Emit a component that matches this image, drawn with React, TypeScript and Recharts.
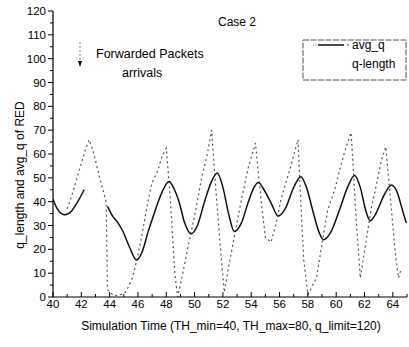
import React from "react";
import { LineChart, Line, XAxis, YAxis } from "recharts";

const avgTime = [40.0, 40.3, 40.85, 41.3, 41.7, 42.2, 43.0, 43.85, 44.2, 44.6, 44.9, 45.4, 45.9, 46.3, 46.7, 47.2, 47.7, 48.2, 48.5, 48.9, 49.3, 49.75, 50.2, 50.7, 51.2, 51.6, 52.0, 52.4, 52.8, 53.3, 53.8, 54.2, 54.5, 54.9, 55.4, 55.9, 56.4, 57.0, 57.5, 57.9, 58.4, 58.8, 59.1, 59.6, 60.2, 60.8, 61.3, 61.7, 62.1, 62.4, 62.8, 63.4, 63.9, 64.3, 64.7, 64.95];
const avgQ = [41, 37, 34.5, 36, 39.5, 45, null, 38, 34, 31, 28, 21, 15.5, 19, 27, 36, 44, 48.5, 46, 40, 31, 26.5, 30, 40, 48.5, 52, 46, 35, 27.5, 31, 40, 46, 48, 45, 39.5, 34, 37, 46, 50.5, 46, 35, 27, 24, 27, 36, 46, 51, 46, 36, 32, 35, 43, 47, 44, 36, 31];

const qTime = [41.0, 41.3, 41.7, 42.0, 42.3, 42.55, 42.8, 43.3, 43.75, 43.85, 44.3, 44.8, 45.1, 45.3, 45.6, 45.9, 46.25, 46.7, 47.0, 47.4, 47.7, 48.0, 48.3, 48.6, 48.8, 49.1, 49.5, 50.0, 50.5, 50.9, 51.2, 51.5, 51.9, 52.1, 52.4, 53.3, 53.8, 54.3, 54.5, 54.8, 55.0, 55.4, 55.8, 56.1, 56.5, 56.8, 57.3, 57.5, 57.7, 58.0, 58.6, 59.4, 59.9, 60.3, 60.7, 61.05, 61.2, 61.35, 61.7, 62.5, 62.8, 63.2, 63.5, 63.7, 64.0, 64.2, 64.4, 64.6];
const qLen = [37, 42, 50, 56, 62, 66, 62, 50, 40, 3, 0.5, 1, 2, 4, 8, 15, 25, 40, 48, 53, 59, 62.5, 40, 10, 0, 8, 20, 34, 50, 60, 70, 45, 15, 2, 12.6, 40.7, 54.5, 64.6, 52, 35, 25, 23, 32, 41, 49, 55, 66, 40, 16, 1, 8, 36.5, 45, 54.6, 63, 69, 55, 38, 8, 38, 46, 57.5, 63, 50, 30, 17, 8, 12];

const xTicks = Array.from({ length: 26 }, (_, i) => 40 + i);
const yTicks = Array.from({ length: 25 }, (_, i) => i * 5);

const avgData = avgTime.map((t, i) => ({ t, v: avgQ[i] }));
const qData = qTime.map((t, i) => ({ t, v: qLen[i] }));

const FONT = "'Liberation Sans', Arial, sans-serif";

const XTick = (props: any) => {
  const { x, y, payload } = props;
  const v = payload.value;
  const major = v % 2 === 0;
  return (
    <g>
      <line x1={x} x2={x} y1={y} y2={y - (major ? 5 : 3)} stroke="#000" strokeWidth={1} />
      {major && (
        <text x={x} y={y + 11} textAnchor="middle" fontSize={11.5} fontFamily={FONT} fill="#000">
          {v}
        </text>
      )}
    </g>
  );
};

const YTick = (props: any) => {
  const { x, y, payload } = props;
  const v = payload.value;
  const major = v % 10 === 0;
  return (
    <g>
      <line x1={x} x2={x - (major ? 5 : 3)} y1={y} y2={y} stroke="#000" strokeWidth={1} />
      {major && (
        <text x={x - 7} y={y + 4} textAnchor="end" fontSize={11.5} fontFamily={FONT} fill="#000">
          {v}
        </text>
      )}
    </g>
  );
};

export default function App() {
  return (
    <div style={{ position: "absolute", left: 0, top: 0, width: 409, height: 347, background: "#fff" }}>
      <LineChart width={409} height={347} margin={{ top: 11, right: 2, bottom: 30, left: 13 }}>
        <XAxis
          type="number"
          dataKey="t"
          domain={[40, 65]}
          ticks={xTicks}
          interval={0}
          allowDataOverflow
          height={20}
          tickSize={0}
          tickMargin={0}
          tickLine={false}
          tick={<XTick />}
          axisLine={{ stroke: "#000", strokeWidth: 1.2 }}
        />
        <YAxis
          type="number"
          domain={[0, 120]}
          ticks={yTicks}
          interval={0}
          width={40}
          tickSize={0}
          tickMargin={0}
          tickLine={false}
          tick={<YTick />}
          axisLine={{ stroke: "#000", strokeWidth: 1.2 }}
        />
        <Line
          data={qData}
          dataKey="v"
          type="linear"
          stroke="#555"
          strokeWidth={1.2}
          strokeDasharray="2 3"
          dot={false}
          isAnimationActive={false}
          name="q-length"
        />
        <Line
          data={avgData}
          dataKey="v"
          type="monotone"
          stroke="#111"
          strokeWidth={1.5}
          dot={false}
          connectNulls={false}
          isAnimationActive={false}
          name="avg_q"
        />
      </LineChart>
      <svg
        width={409}
        height={347}
        style={{ position: "absolute", left: 0, top: 0, pointerEvents: "none" }}
        fontFamily={FONT}
      >
        <text x={237} y={26} textAnchor="middle" fontSize={12} fill="#000">Case 2</text>
        <text x={96} y={58} fontSize={12.5} fill="#000">Forwarded Packets</text>
        <text x={122} y={77} fontSize={12.5} fill="#000">arrivals</text>
        <line x1={80} x2={80} y1={42} y2={62} stroke="#888" strokeWidth={1} strokeDasharray="2 2" />
        <path d="M78,61 L82,61 L80,67 Z" fill="#000" />
        <rect x={303} y={40} width={103} height={40} fill="none" stroke="#555" strokeWidth={1} strokeDasharray="6 1.5" />
        <line x1={313} x2={317} y1={45} y2={45} stroke="#777" strokeWidth={1} strokeDasharray="1 1.5" />
        <line x1={318} x2={344} y1={45} y2={45} stroke="#111" strokeWidth={1.5} />
        <line x1={347} x2={349} y1={45} y2={45} stroke="#333" strokeWidth={1} />
        <text x={352} y={49} fontSize={12} fill="#000">avg_q</text>
        <text x={352} y={68} fontSize={12} fill="#000">q-length</text>
        <text x={231} y={330} textAnchor="middle" fontSize={12} fill="#000">
          Simulation Time (TH_min=40, TH_max=80, q_limit=120)
        </text>
        <text x={20} y={175} textAnchor="middle" fontSize={12} fill="#000" transform="rotate(-90 20 175)" dy={4}>
          q_length and avg_q of RED
        </text>
      </svg>
    </div>
  );
}
